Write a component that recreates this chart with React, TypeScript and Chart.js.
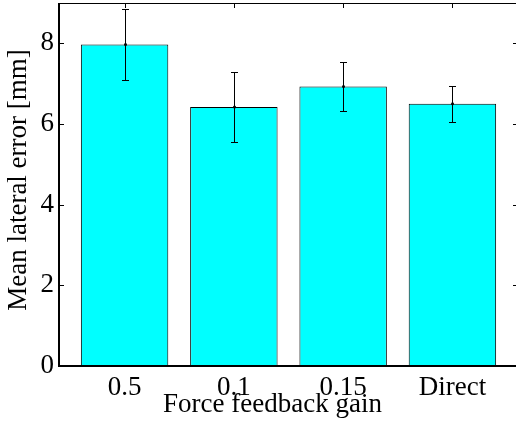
import React, { useEffect, useRef } from 'react';
import { Chart, registerables } from 'chart.js';

Chart.register(...registerables);

// ---- data ----
const categories = ['0.5', '0.1', '0.15', 'Direct'];
const categoryPositions = [1, 2, 3, 4];
const meanErrors = [7.97, 6.42, 6.93, 6.5];
const stdErrors = [0.88, 0.87, 0.61, 0.45];
const yTickValues = [0, 2, 4, 6, 8];
const yRange = [0, 9];
const xRange = [0.4, 4.6];
const xTitle = 'Force feedback gain';
const yTitle = 'Mean lateral error [mm]';

const FONT = '"Liberation Serif", "Times New Roman", serif';

const zeroPadding = (scale: any) => {
  scale.paddingTop = 0;
  scale.paddingBottom = 0;
  scale.paddingLeft = 0;
  scale.paddingRight = 0;
};

const framePlugin = {
  id: 'matlabFrame',
  afterDatasetsDraw(chart: any) {
    const { ctx, chartArea, scales } = chart;
    const { left, right, top, bottom } = chartArea;
    const x = scales.x;
    const y = scales.y;
    ctx.save();
    ctx.strokeStyle = '#000';
    ctx.fillStyle = '#000';
    ctx.lineWidth = 1;
    // error bars
    meanErrors.forEach((m, i) => {
      const px = Math.round(x.getPixelForValue(categoryPositions[i])) + 0.5;
      const yHi = Math.round(y.getPixelForValue(m + stdErrors[i])) + 0.5;
      const yLo = Math.round(y.getPixelForValue(m - stdErrors[i])) + 0.5;
      const yM = y.getPixelForValue(m);
      ctx.beginPath();
      ctx.moveTo(px, yHi);
      ctx.lineTo(px, yLo);
      ctx.moveTo(px - 3.5, yHi);
      ctx.lineTo(px + 3.5, yHi);
      ctx.moveTo(px - 3.5, yLo);
      ctx.lineTo(px + 3.5, yLo);
      ctx.stroke();
      ctx.beginPath();
      ctx.arc(px, yM, 1.5, 0, Math.PI * 2);
      ctx.fill();
    });
    // inward ticks
    const tl = 5;
    ctx.beginPath();
    yTickValues.forEach((v) => {
      const py = Math.round(y.getPixelForValue(v)) + 0.5;
      ctx.moveTo(left, py);
      ctx.lineTo(left + tl, py);
      ctx.moveTo(right, py);
      ctx.lineTo(right - tl, py);
    });
    categoryPositions.forEach((c) => {
      const px = Math.round(x.getPixelForValue(c)) + 0.5;
      ctx.moveTo(px, top);
      ctx.lineTo(px, top + tl);
    });
    ctx.stroke();
    // frame
    ctx.lineWidth = 1;
    ctx.beginPath();
    ctx.moveTo(left, top + 0.5);
    ctx.lineTo(right, top + 0.5);
    ctx.moveTo(right - 0.5, top);
    ctx.lineTo(right - 0.5, bottom);
    ctx.stroke();
    ctx.lineWidth = 2;
    ctx.beginPath();
    ctx.moveTo(left, top);
    ctx.lineTo(left, bottom + 1);
    ctx.moveTo(left - 1, bottom);
    ctx.lineTo(right, bottom);
    ctx.stroke();
    // axis titles
    ctx.font = `27px ${FONT}`;
    ctx.textAlign = 'center';
    ctx.textBaseline = 'alphabetic';
    ctx.fillText(xTitle, 272.5, 412);
    ctx.translate(25.5, 180);
    ctx.rotate(-Math.PI / 2);
    ctx.fillText(yTitle, 0, 0);
    ctx.restore();
  },
};

export default function App() {
  const canvasRef = useRef<HTMLCanvasElement | null>(null);

  useEffect(() => {
    document.body.style.margin = '0';
    const canvas = canvasRef.current;
    if (!canvas) return;
    const chart = new Chart(canvas, {
      type: 'bar',
      data: {
        datasets: [
          {
            data: meanErrors.map((v, i) => ({ x: categoryPositions[i], y: v })),
            backgroundColor: '#00FFFF',
            borderColor: '#000000',
            borderWidth: 1,
            borderSkipped: false,
            barPercentage: 0.8,
            categoryPercentage: 1,
          },
        ],
      },
      options: {
        responsive: false,
        animation: false,
        events: [],
        layout: { padding: { top: 3, right: 12, left: 0, bottom: 0 } },
        plugins: {
          legend: { display: false },
          tooltip: { enabled: false },
          title: { display: false },
        },
        scales: {
          x: {
            type: 'linear',
            offset: false,
            min: xRange[0],
            max: xRange[1],
            grid: { display: false, drawTicks: false, offset: false },
            border: { display: false },
            afterBuildTicks: (scale: any) => {
              scale.ticks = categoryPositions.map((v) => ({ value: v }));
            },
            afterFit: (scale: any) => {
              scale.height = 68;
              zeroPadding(scale);
            },
            ticks: {
              color: '#000',
              font: { family: FONT, size: 27, lineHeight: 1 },
              padding: 8,
              maxRotation: 0,
              autoSkip: false,
              callback: (value: any) => {
                const idx = categoryPositions.indexOf(Number(value));
                return idx >= 0 ? categories[idx] : '';
              },
            },
          },
          y: {
            type: 'linear',
            min: yRange[0],
            max: yRange[1],
            grid: { display: false, drawTicks: false },
            border: { display: false },
            afterBuildTicks: (scale: any) => {
              scale.ticks = yTickValues.map((v) => ({ value: v }));
            },
            afterFit: (scale: any) => {
              scale.width = 59;
              zeroPadding(scale);
            },
            ticks: {
              color: '#000',
              font: { family: FONT, size: 27, lineHeight: 1 },
              padding: 5,
              autoSkip: false,
              callback: (value: any) => String(value),
            },
          },
        },
      },
      plugins: [framePlugin],
    });
    return () => chart.destroy();
  }, []);

  return (
    <div style={{ position: 'fixed', left: 0, top: 0, width: 516, height: 434, overflow: 'hidden', background: '#fff' }}>
      <canvas ref={canvasRef} width={530} height={434} style={{ width: 530, height: 434, display: 'block' }} />
    </div>
  );
}
